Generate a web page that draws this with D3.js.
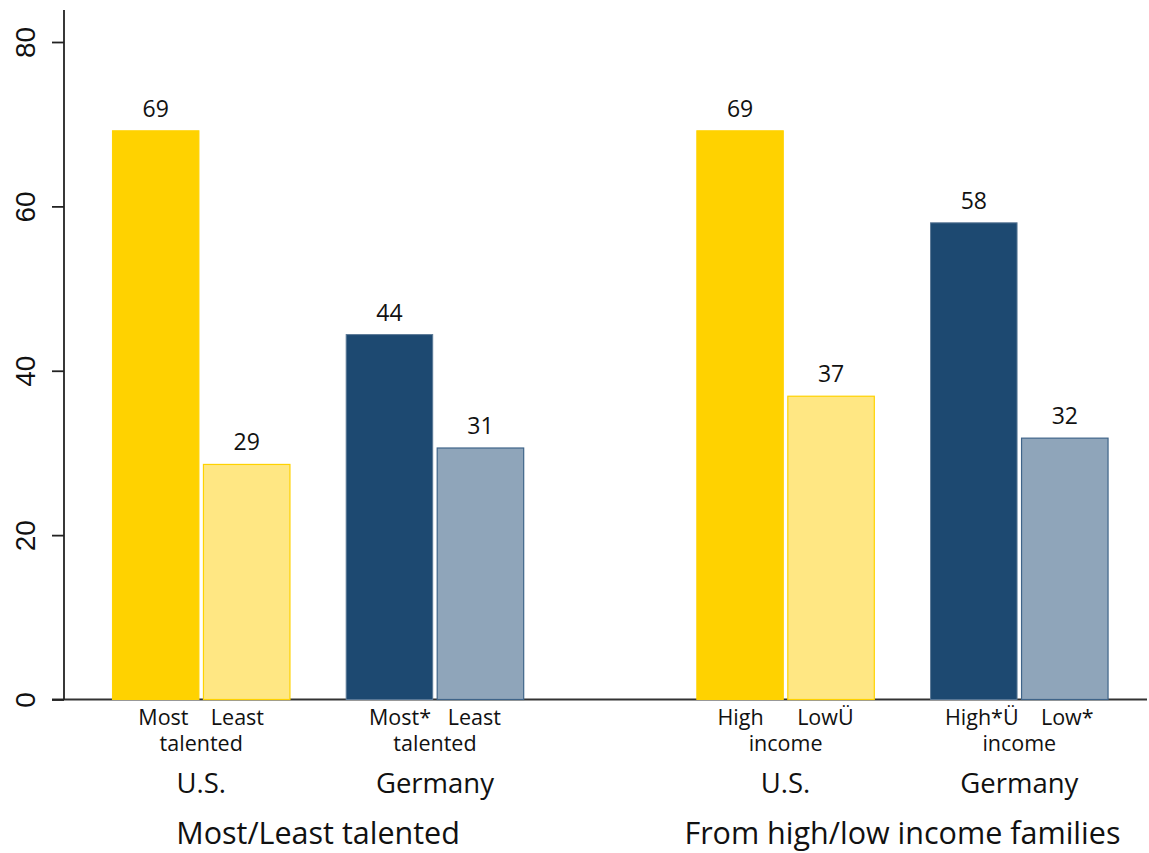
<!DOCTYPE html>
<html><head><meta charset="utf-8">
<script src="https://cdn.jsdelivr.net/npm/d3@7"></script>
<style>body{margin:0;background:#fff}svg{display:block}text{white-space:pre}</style>
</head><body>
<svg id="c" width="1149" height="853"></svg>
<script>
// ---- data ----
const pairs = ["US-talent","DE-talent","US-income","DE-income"];
const pairSlots = [0, 1, 2.5, 3.5];
const highValues = [69.2, 44.4, 69.2, 58.0];
const lowValues  = [28.6, 30.6, 36.9, 31.8];
const highLabels = ["69","44","69","58"];
const lowLabels  = ["29","31","37","32"];
const barWordLine = ["Most    Least","Most*   Least","High      LowÜ","High*Ü    Low*"];
const barSubLine = ["talented","talented","income","income"];
const countryLabels = ["U.S.","Germany","U.S.","Germany"];
const groupLabels = ["Most/Least talented","From high/low income families"];
const groupSlots = [0.5, 3];
const yTicks = [0,20,40,60,80];
const isGermany = [false,true,false,true];

const svg = d3.select("#c");
const y = d3.scaleLinear().domain([0,80]).range([699.5,42]);
const x = d3.scaleLinear().domain([0,3.5]).range([201.2,1019.3]);
const barW = 86.5, gap = 4.5;
const font = "'Open Sans', sans-serif";

const colHigh = d => isGermany[d] ? "#1D4971" : "#FFD200";
const colLow  = d => isGermany[d] ? "#8FA5BA" : "#FFE783";
const strokeHigh = d => isGermany[d] ? "#5A7896" : "#FFD200";
const strokeLow  = d => isGermany[d] ? "#3F6489" : "#FFD200";

const idx = d3.range(pairs.length);

// baseline
svg.append("line").attr("x1",52).attr("x2",1147).attr("y1",y(0)).attr("y2",y(0))
  .attr("stroke","#333").attr("stroke-width",2);

// bars
svg.selectAll("rect.hi").data(idx).join("rect").attr("class","hi")
  .attr("x", i => x(pairSlots[i]) - gap/2 - barW)
  .attr("width", barW)
  .attr("y", i => y(highValues[i]))
  .attr("height", i => y(0) - y(highValues[i]))
  .attr("fill", colHigh).attr("stroke", strokeHigh).attr("stroke-width",1);
svg.selectAll("rect.lo").data(idx).join("rect").attr("class","lo")
  .attr("x", i => x(pairSlots[i]) + gap/2)
  .attr("width", barW)
  .attr("y", i => y(lowValues[i]))
  .attr("height", i => y(0) - y(lowValues[i]))
  .attr("fill", colLow).attr("stroke", strokeLow).attr("stroke-width",1.2);

// value labels
svg.selectAll("text.vh").data(idx).join("text").attr("class","vh")
  .attr("x", i => x(pairSlots[i]) - gap/2 - barW/2)
  .attr("y", i => y(highValues[i]) - 14)
  .attr("text-anchor","middle").attr("font-family",font).attr("font-size",23).attr("fill","#111")
  .text(i => highLabels[i]);
svg.selectAll("text.vl").data(idx).join("text").attr("class","vl")
  .attr("x", i => x(pairSlots[i]) + gap/2 + barW/2)
  .attr("y", i => y(lowValues[i]) - 14)
  .attr("text-anchor","middle").attr("font-family",font).attr("font-size",23).attr("fill","#111")
  .text(i => lowLabels[i]);

// y axis
const yAxis = d3.axisLeft(y).tickValues(yTicks).tickSize(12).tickSizeOuter(0);
const ga = svg.append("g").attr("transform","translate(64,0)").call(yAxis);
ga.select(".domain").remove();
ga.append("line").attr("x1",0).attr("x2",0).attr("y1",10).attr("y2",y(0)).attr("stroke","#222").attr("stroke-width",1.8);
ga.selectAll(".tick line").attr("stroke","#222").attr("stroke-width",1.8);
ga.selectAll(".tick text")
  .attr("font-family","'Liberation Sans', Arial, sans-serif").attr("font-size",28).attr("fill","#111")
  .attr("transform","rotate(-90)")
  .attr("x",0).attr("y",-29).attr("dy",null)
  .attr("text-anchor","middle");

// category labels (two lines in one text element)
const cat = svg.selectAll("text.w").data(idx).join("text").attr("class","w")
  .attr("text-anchor","middle").attr("font-family",font).attr("font-size",21.5).attr("fill","#111");
cat.append("tspan").attr("x", i => x(pairSlots[i])).attr("y",725).text(i => barWordLine[i]);
cat.append("tspan").attr("x", i => x(pairSlots[i])).attr("y",751).text(i => barSubLine[i]);

svg.selectAll("text.cn").data(idx).join("text").attr("class","cn")
  .attr("x", i => x(pairSlots[i])).attr("y",793)
  .attr("text-anchor","middle").attr("font-family",font).attr("font-size",27.5).attr("fill","#111")
  .text(i => countryLabels[i]);
svg.selectAll("text.gl").data(groupLabels).join("text").attr("class","gl")
  .attr("x", (d,i) => x(groupSlots[i])).attr("y",844)
  .attr("text-anchor","middle").attr("font-family",font).attr("font-size",30.5).attr("fill","#111")
  .text(d => d);
</script>
</body></html>
